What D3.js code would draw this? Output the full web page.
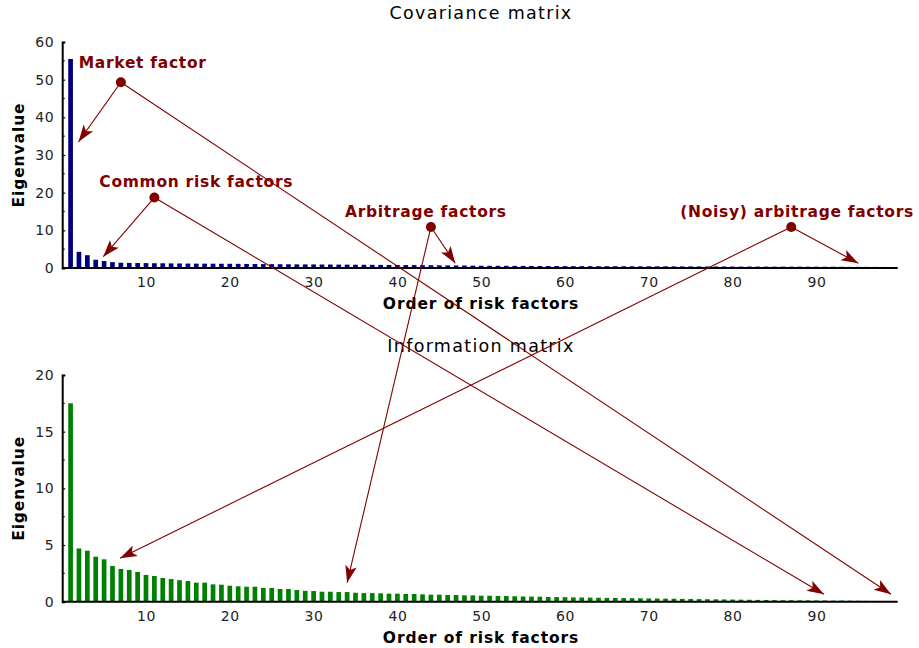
<!DOCTYPE html>
<html>
<head>
<meta charset="utf-8">
<script src="https://cdn.jsdelivr.net/npm/d3@7"></script>
<style>
  html, body { margin: 0; padding: 0; background: #fff; }
  svg { display: block; }
  text { font-family: "DejaVu Sans", sans-serif; }
</style>
</head>
<body>
<svg id="chart" width="919" height="648"></svg>
<script>
// Eigenvalues of the covariance matrix, ordered from largest to smallest
const covarianceEigenvalues = [
  55.5, 4.3, 3.4, 2.2, 1.85, 1.55, 1.4, 1.35, 1.33, 1.3,
  1.27, 1.25, 1.22, 1.2, 1.18, 1.16, 1.15, 1.14, 1.13, 1.12,
  1.1, 1.08, 1.06, 1.04, 1.02, 1.0, 0.99, 0.97, 0.96, 0.95,
  0.93, 0.92, 0.9, 0.89, 0.87, 0.86, 0.84, 0.83, 0.81, 0.8,
  0.78, 0.77, 0.75, 0.74, 0.72, 0.7, 0.68, 0.66, 0.63, 0.6,
  0.59, 0.58, 0.57, 0.56, 0.55, 0.54, 0.53, 0.52, 0.52, 0.51,
  0.5, 0.5, 0.49, 0.48, 0.48, 0.47, 0.46, 0.46, 0.45, 0.45,
  0.44, 0.44, 0.43, 0.42, 0.42, 0.41, 0.41, 0.4, 0.4, 0.39,
  0.38, 0.38, 0.37, 0.37, 0.36, 0.36, 0.35, 0.35, 0.34, 0.34,
  0.33, 0.33, 0.32, 0.31, 0.31, 0.3, 0.29, 0.28, 0.27
];

// Eigenvalues of the information (inverse covariance) matrix
const informationEigenvalues = [
  17.5, 4.7, 4.5, 3.97, 3.74, 3.15, 2.89, 2.8, 2.62, 2.36,
  2.27, 2.09, 2.0, 1.9, 1.82, 1.68, 1.68, 1.53, 1.5, 1.41,
  1.36, 1.32, 1.32, 1.21, 1.21, 1.12, 1.12, 1.03, 0.96, 0.94,
  0.88, 0.88, 0.85, 0.85, 0.79, 0.76, 0.76, 0.74, 0.71, 0.71,
  0.68, 0.68, 0.65, 0.62, 0.62, 0.59, 0.59, 0.56, 0.56, 0.53,
  0.53, 0.5, 0.5, 0.48, 0.46, 0.45, 0.44, 0.42, 0.41, 0.4,
  0.38, 0.37, 0.36, 0.35, 0.34, 0.33, 0.32, 0.31, 0.3, 0.29,
  0.28, 0.27, 0.26, 0.25, 0.24, 0.23, 0.22, 0.21, 0.2, 0.19,
  0.18, 0.17, 0.16, 0.15, 0.14, 0.13, 0.13, 0.12, 0.12, 0.11,
  0.11, 0.1, 0.1, 0.09, 0.08, 0.07, 0.06, 0.05, 0.04
];

const xTickValues = [10, 20, 30, 40, 50, 60, 70, 80, 90];
const covYTicks = [0, 10, 20, 30, 40, 50, 60];
const covYMinor = [5, 15, 25, 35, 45, 55];
const infoYTicks = [0, 5, 10, 15, 20];
const infoYMinor = [2.5, 7.5, 12.5, 17.5];

const panelTitles = ["Covariance matrix", "Information matrix"];
const xAxisTitle = "Order of risk factors";
const yAxisTitle = "Eigenvalue";

// Annotations: label, label centre, marker dot (all in covariance-panel units),
// a short arrow inside the covariance panel and a long arrow into the information panel
const annotationLabels = ["Market factor", "Common risk factors", "Arbitrage factors", "(Noisy) arbitrage factors"];
const annotationLabelAt = [[9.6, 53.1], [16.0, 21.6], [43.4, 13.5], [87.7, 13.5]];
const annotationDots = [[7, 49.3], [11, 18.7], [44, 10.9], [87, 10.9]];
const annotationCovTargets = [[1.95, 33.5], [4.9, 3.0], [46.9, 1.25], [95, 1.25]];
const annotationInfoTargets = [[98.9, 0.65], [90.9, 0.65], [34, 1.68], [6.9, 3.83]];

const svg = d3.select("#chart");
const annColor = "#800000";

const x = d3.scaleLinear().domain([0, 100]).range([62.2, 900.2]);
const yCov = d3.scaleLinear().domain([0, 60]).range([268, 42]);
const yInfo = d3.scaleLinear().domain([0, 20]).range([601.7, 375]);
const barWidth = 4.7;

function drawPanel(values, y, yTicks, yMinor, color, title, titleY) {
  const g = svg.append("g");

  // bars
  g.append("g").selectAll("rect")
    .data(values)
    .join("rect")
    .attr("x", (d, i) => x(i + 1) - barWidth / 2)
    .attr("width", barWidth)
    .attr("y", d => y(d))
    .attr("height", d => y(0) - y(d))
    .attr("fill", color);

  // y axis (major + minor ticks)
  const yAxis = g.append("g")
    .attr("transform", `translate(${x(0)},0)`)
    .call(d3.axisLeft(y).tickValues(yTicks).tickSize(-3).tickPadding(8).tickFormat(d3.format("d")));
  yAxis.select(".domain").attr("stroke", "#000").attr("stroke-width", 2);
  yAxis.selectAll(".tick line").attr("stroke", "#000").attr("stroke-width", 1.2);
  yAxis.selectAll(".tick text")
    .attr("font-size", 14).attr("fill", "#222").attr("letter-spacing", 0.6)
    .attr("font-family", "DejaVu Sans");
  g.append("g").selectAll("line")
    .data(yMinor)
    .join("line")
    .attr("x1", x(0)).attr("x2", x(0) + 2.5)
    .attr("y1", d => y(d)).attr("y2", d => y(d))
    .attr("stroke", "#000").attr("stroke-width", 1.2);

  // x axis
  const xAxis = g.append("g")
    .attr("transform", `translate(0,${y(0)})`)
    .call(d3.axisBottom(x).tickValues(xTickValues).tickSize(0).tickPadding(9).tickSizeOuter(0));
  xAxis.select(".domain").attr("stroke", "#000").attr("stroke-width", 2)
    .attr("d", `M${x(0)},0H${x(99.7)}`);
  xAxis.selectAll(".tick text")
    .attr("font-size", 14).attr("fill", "#222").attr("letter-spacing", 0.6)
    .attr("font-family", "DejaVu Sans");

  // titles
  svg.append("text")
    .attr("x", 481).attr("y", titleY)
    .attr("text-anchor", "middle")
    .attr("font-size", 17.5).attr("letter-spacing", 1.3)
    .text(title);
  svg.append("text")
    .attr("x", 481).attr("y", y(0) + 41)
    .attr("text-anchor", "middle")
    .attr("font-size", 15.5).attr("font-weight", "bold").attr("letter-spacing", 0.9)
    .text(xAxisTitle);
  svg.append("text")
    .attr("transform", `translate(24,${(y.range()[0] + y.range()[1]) / 2 + 0}) rotate(-90)`)
    .attr("text-anchor", "middle")
    .attr("font-size", 15.5).attr("font-weight", "bold").attr("letter-spacing", 0.9)
    .text(yAxisTitle);
}

drawPanel(covarianceEigenvalues, yCov, covYTicks, covYMinor, "#000080", panelTitles[0], 19);
drawPanel(informationEigenvalues, yInfo, infoYTicks, infoYMinor, "#008000", panelTitles[1], 352);

// arrowhead marker
svg.append("defs").append("marker")
  .attr("id", "arrowhead")
  .attr("viewBox", "-18 -7 20 14")
  .attr("refX", 0).attr("refY", 0)
  .attr("markerWidth", 20).attr("markerHeight", 14)
  .attr("markerUnits", "userSpaceOnUse")
  .attr("orient", "auto")
  .append("path")
  .attr("d", "M0,0L-17,-5.8L-13,0L-17,5.8Z")
  .attr("fill", annColor);

const ann = svg.append("g");
annotationLabels.forEach((label, i) => {
  const [dx, dy] = annotationDots[i];
  const [cx, cy] = annotationCovTargets[i];
  const [ix, iy] = annotationInfoTargets[i];
  const px = x(dx), py = yCov(dy);

  ann.append("line")
    .attr("x1", px).attr("y1", py)
    .attr("x2", x(cx)).attr("y2", yCov(cy))
    .attr("stroke", annColor).attr("stroke-width", 1.1)
    .attr("marker-end", "url(#arrowhead)");
  ann.append("line")
    .attr("x1", px).attr("y1", py)
    .attr("x2", x(ix)).attr("y2", yInfo(iy))
    .attr("stroke", annColor).attr("stroke-width", 1.1)
    .attr("marker-end", "url(#arrowhead)");
  ann.append("circle")
    .attr("cx", px).attr("cy", py).attr("r", 5)
    .attr("fill", annColor);
  ann.append("text")
    .attr("x", x(annotationLabelAt[i][0]))
    .attr("y", yCov(annotationLabelAt[i][1]))
    .attr("text-anchor", "middle")
    .attr("font-size", 15.5).attr("font-weight", "bold").attr("letter-spacing", 0.7)
    .attr("fill", annColor)
    .text(label);
});
</script>
</body>
</html>
